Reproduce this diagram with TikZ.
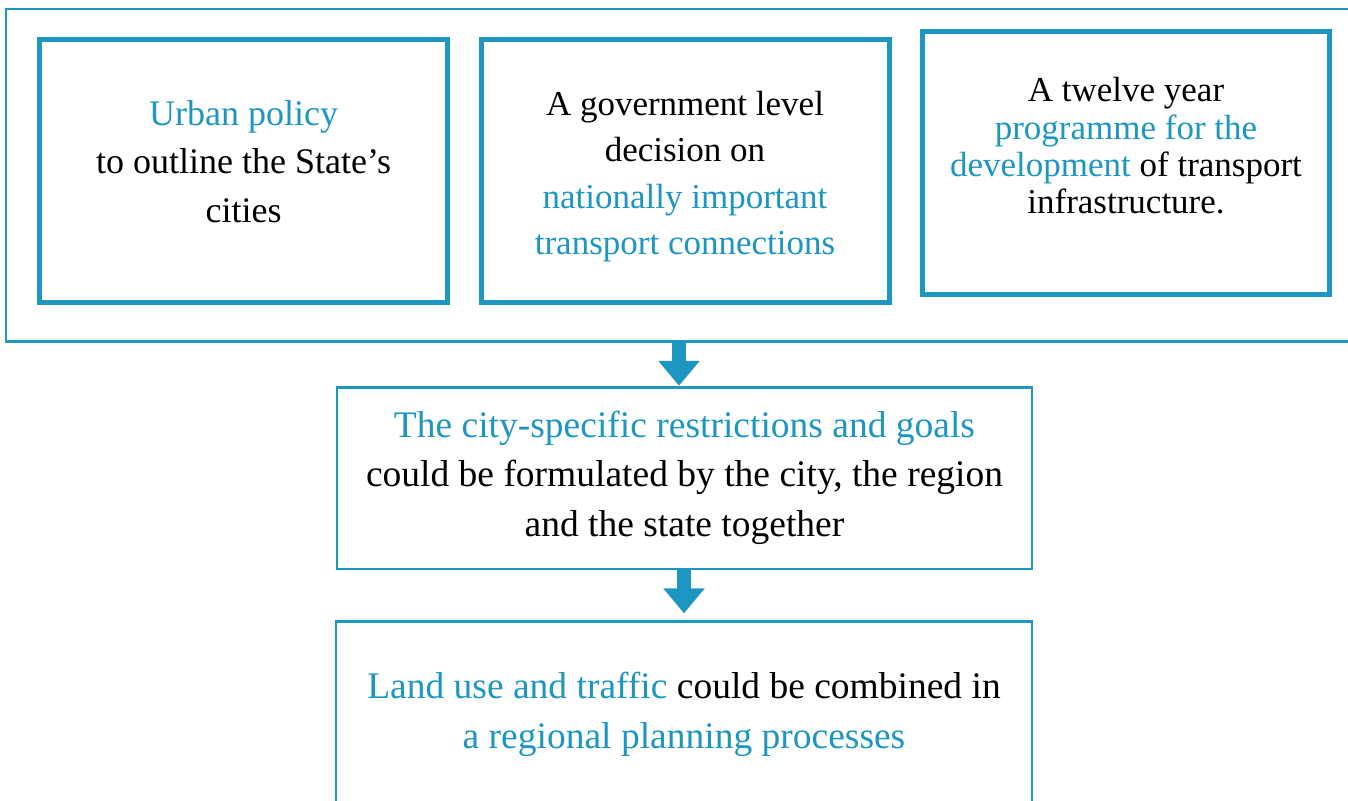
\documentclass[tikz,border=0pt]{standalone}
\usepackage{fontspec}
\setmainfont{Liberation Serif}
\usetikzlibrary{arrows.meta}
\definecolor{accent}{RGB}{30,150,194}
\newcommand{\hl}[1]{\textcolor{accent}{#1}}
\begin{document}
\begin{tikzpicture}[x=1pt,y=1pt,
  frame/.style={draw=accent, line width=2.5pt, inner sep=0pt, outer sep=0pt},
  card/.style={draw=accent, line width=5pt, inner sep=0pt, outer sep=0pt,
               minimum width=408pt, minimum height=262pt},
  txt/.style={align=center, inner sep=0pt, outer sep=0pt},
  flow/.style={draw=accent, line width=13.5pt,
               -{Triangle[width=40pt,length=25pt]}}]
\useasboundingbox (0,0) rectangle (1348,-800);
\fill[white] (0,0) rectangle (1348,-800);

% outer frame around the three national-level measures
\node[frame, minimum width=1354pt, minimum height=332.5pt] (outer) at (683,-175.25) {};

% the three measures
\node[card] (c1) at (243.6,-171) {};
\node[card] (c2) at (685,-171) {};
\node[card, minimum width=407pt, minimum height=263.5pt] (c3) at (1126,-163.2) {};

\node[txt, font=\fontsize{36}{48.5}\selectfont] (t1) at (243.6,-161.5)
  {\hl{Urban policy}\\to outline the State’s\\cities};
\node[txt, font=\fontsize{35}{46.5}\selectfont] (t2) at (685,-176.5)
  {A government level\\decision on\\\hl{nationally important}\\\hl{transport connections}};
\node[txt, font=\fontsize{35}{37.3}\selectfont] (t3) at (1126,-146)
  {A twelve year\\\hl{programme for the}\\\hl{development} of transport\\infrastructure.};

% city level
\node[frame, minimum width=695pt, minimum height=181.5pt] (mid) at (684.5,-478) {};
\node[txt, font=\fontsize{37.5}{49.5}\selectfont] (t4) at (684.5,-477.5)
  {\hl{The city-specific restrictions and goals}\\could be formulated by the city, the region\\and the state together};

% regional level
\node[frame, minimum width=696pt, minimum height=210pt] (bot) at (684,-726.7) {};
\node[txt, font=\fontsize{37.5}{50}\selectfont] (t5) at (684,-714)
  {\hl{Land use and traffic} could be combined in\\\hl{a regional planning processes}};

% connectors
\draw[flow] ([xshift=-5.5pt]mid.north |- outer.south) -- ([xshift=-5.5pt,yshift=1.5pt]mid.north);
\draw[flow] (bot.north |- mid.south) -- ([yshift=8.4pt]bot.north);
\end{tikzpicture}
\end{document}
